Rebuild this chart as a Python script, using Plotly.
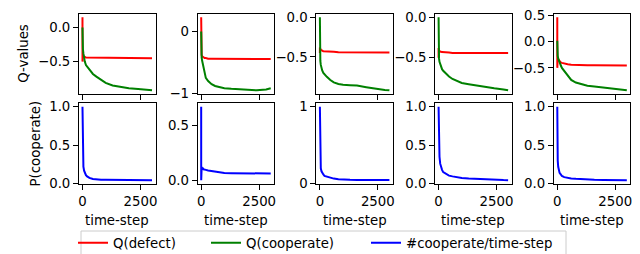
import plotly.graph_objects as go
from plotly.subplots import make_subplots

# ---------------- data ----------------
time_steps = [0, 1, 3, 6, 10, 20, 40, 70, 100, 150, 200, 300, 450, 600, 800,
              1000, 1300, 1600, 2000, 2400, 2800, 3000]

q_defect_1 = [0.15, -0.50, -0.38, -0.36, -0.38, -0.40, -0.42, -0.43, -0.43, -0.44, -0.44,
              -0.44, -0.44, -0.44, -0.44, -0.445, -0.445, -0.45, -0.45, -0.45, -0.45, -0.45]
q_coop_1 = [0.0, -0.10, -0.20, -0.25, -0.28, -0.32, -0.38, -0.45, -0.50, -0.55, -0.57,
            -0.62, -0.68, -0.72, -0.77, -0.81, -0.85, -0.87, -0.89, -0.90, -0.91, -0.92]
p_coop_1 = [1.0, 0.95, 0.85, 0.70, 0.60, 0.33, 0.22, 0.17, 0.14, 0.11, 0.095,
            0.075, 0.06, 0.052, 0.05, 0.05, 0.05, 0.048, 0.047, 0.046, 0.045, 0.045]

q_defect_2 = [0.23, -0.35, -0.30, -0.33, -0.36, -0.38, -0.40, -0.41, -0.42, -0.43, -0.43,
              -0.44, -0.44, -0.44, -0.44, -0.44, -0.44, -0.44, -0.445, -0.445, -0.445, -0.445]
q_coop_2 = [0.0, -0.10, -0.20, -0.30, -0.36, -0.42, -0.47, -0.52, -0.60, -0.70, -0.75,
            -0.80, -0.85, -0.88, -0.90, -0.915, -0.925, -0.93, -0.94, -0.95, -0.935, -0.915]
p_coop_2 = [0.67, 0.0, 0.35, 0.08, 0.20, 0.12, 0.11, 0.11, 0.10, 0.10, 0.095,
            0.09, 0.085, 0.075, 0.068, 0.066, 0.065, 0.064, 0.062, 0.061, 0.060, 0.062]

q_defect_3 = [-0.45, -0.38, -0.42, -0.40, -0.39, -0.40, -0.41, -0.42, -0.42, -0.43, -0.43,
              -0.43, -0.435, -0.435, -0.44, -0.44, -0.44, -0.44, -0.445, -0.445, -0.445, -0.445]
q_coop_3 = [0.0, -0.15, -0.30, -0.40, -0.48, -0.55, -0.60, -0.64, -0.67, -0.70, -0.72,
            -0.75, -0.79, -0.82, -0.84, -0.85, -0.855, -0.86, -0.88, -0.90, -0.915, -0.92]
p_coop_3 = [1.0, 0.95, 0.80, 0.60, 0.50, 0.28, 0.20, 0.16, 0.14, 0.12, 0.10,
            0.09, 0.077, 0.066, 0.058, 0.052, 0.05, 0.048, 0.047, 0.046, 0.046, 0.048]

q_defect_4 = [-0.50, -0.38, -0.40, -0.39, -0.40, -0.41, -0.42, -0.42, -0.425, -0.43, -0.43,
              -0.435, -0.435, -0.44, -0.44, -0.44, -0.44, -0.44, -0.44, -0.44, -0.44, -0.44]
q_coop_4 = [0.0, -0.10, -0.25, -0.38, -0.46, -0.51, -0.55, -0.58, -0.61, -0.64, -0.66,
            -0.69, -0.73, -0.76, -0.79, -0.81, -0.825, -0.84, -0.86, -0.875, -0.89, -0.90]
p_coop_4 = [1.0, 0.98, 0.90, 0.80, 0.74, 0.50, 0.35, 0.26, 0.21, 0.18, 0.15,
            0.13, 0.105, 0.095, 0.083, 0.075, 0.068, 0.062, 0.055, 0.05, 0.047, 0.046]

q_defect_5 = [0.47, -0.50, -0.20, -0.28, -0.30, -0.32, -0.34, -0.36, -0.38, -0.395, -0.405,
              -0.42, -0.43, -0.44, -0.445, -0.45, -0.45, -0.45, -0.45, -0.455, -0.455, -0.455]
q_coop_5 = [0.02, -0.05, -0.10, -0.15, -0.20, -0.27, -0.32, -0.37, -0.40, -0.45, -0.50,
            -0.56, -0.66, -0.73, -0.78, -0.81, -0.84, -0.855, -0.875, -0.89, -0.91, -0.93]
p_coop_5 = [1.0, 0.90, 0.60, 0.45, 0.42, 0.30, 0.22, 0.17, 0.14, 0.12, 0.10,
            0.085, 0.075, 0.068, 0.063, 0.058, 0.054, 0.05, 0.048, 0.047, 0.046, 0.046]

q_defect = [q_defect_1, q_defect_2, q_defect_3, q_defect_4, q_defect_5]
q_coop = [q_coop_1, q_coop_2, q_coop_3, q_coop_4, q_coop_5]
p_coop = [p_coop_1, p_coop_2, p_coop_3, p_coop_4, p_coop_5]

x_tickvals = [0, 2500]
x_ticktext = ["0", "2500"]
q_tickvals = [[0.0, -0.5], [0.0, -1.0], [0.0, -0.5], [0.0, -0.5], [0.5, 0.0, -0.5]]
q_ticktext = [["0.0", "\u22120.5"], ["0", "\u22121"], ["0.0", "\u22120.5"],
              ["0.0", "\u22120.5"], ["0.5", "0.0", "\u22120.5"]]
p_tickvals = [[0.0, 0.5, 1.0], [0.0, 0.5], [0.0, 1.0], [0.0, 0.5, 1.0], [0.0, 0.5, 1.0]]
p_ticktext = [["0.0", "0.5", "1.0"], ["0.0", "0.5"], ["0", "1"],
              ["0.0", "0.5", "1.0"], ["0.0", "0.5", "1.0"]]

series_names = ["Q(defect)", "Q(cooperate)", "#cooperate/time-step"]
series_colors = ["red", "green", "blue"]

# ---------------- figure ----------------
W, H = 640, 254
FONT = "DejaVu Sans"
FS = 13.3

fig = make_subplots(rows=2, cols=5)

col_left = 71.0
col_step = 118.7
col_w = 76.5
row_px = [(5.5, 86.0), (95.0, 176.0)]
legend_names = ["legend", "legend2", "legend3"]
legend_line_px = [77, 210, 370]


def pad_range(vals, ticks, frac=0.05):
    lo, hi = min(vals), max(vals)
    p = (hi - lo) * frac
    lo, hi = lo - p, hi + p
    # keep edge ticks visible (matplotlib shows them when they sit on the limit)
    lo = min(lo, min(ticks) - 0.004)
    hi = max(hi, max(ticks) + 0.004)
    return [lo, hi]


x_range = [min(time_steps) - 0.05 * (max(time_steps) - min(time_steps)),
           max(time_steps) + 0.05 * (max(time_steps) - min(time_steps))]

axis_style = dict(showline=True, linecolor="black", linewidth=1, mirror=True,
                  ticks="outside", ticklen=5, tickwidth=1, tickcolor="black",
                  showgrid=False, zeroline=False, automargin=False,
                  tickmode="array", ticklabeloverflow="allow",
                  tickfont=dict(family=FONT, size=FS, color="black"))

for r in range(2):
    for c in range(5):
        if r == 0:
            for j, ser in enumerate([q_defect[c], q_coop[c]]):
                fig.add_trace(go.Scatter(x=time_steps, y=ser, mode="lines",
                                         line=dict(color=series_colors[j], width=2),
                                         name=series_names[j], showlegend=(c == 0),
                                         legend=legend_names[j]), row=1, col=c + 1)
            tv, tt = q_tickvals[c], q_ticktext[c]
            yr = pad_range(q_defect[c] + q_coop[c], tv)
        else:
            fig.add_trace(go.Scatter(x=time_steps, y=p_coop[c], mode="lines",
                                     line=dict(color=series_colors[2], width=2),
                                     name=series_names[2], showlegend=(c == 0),
                                     legend=legend_names[2]), row=2, col=c + 1)
            tv, tt = p_tickvals[c], p_ticktext[c]
            yr = pad_range(p_coop[c], tv)

        x0 = (col_left + c * col_step) / W
        x1 = (col_left + c * col_step + col_w) / W
        y0 = 1 - row_px[r][1] / H
        y1 = 1 - row_px[r][0] / H
        fig.update_xaxes(domain=[x0, x1], range=x_range, tickvals=x_tickvals,
                         ticktext=x_ticktext, showticklabels=(r == 1),
                         row=r + 1, col=c + 1, **axis_style)
        fig.update_yaxes(domain=[y0, y1], range=yr, tickvals=tv, ticktext=tt,
                         showticklabels=True, side="left",
                         row=r + 1, col=c + 1, **axis_style)

annotations = []
for c in range(5):
    cx = (col_left + c * col_step + col_w / 2) / W
    annotations.append(dict(text="time-step", x=cx, y=1 - 212 / H, xref="paper", yref="paper",
                            showarrow=False, xanchor="center", yanchor="middle",
                            font=dict(family=FONT, size=FS, color="black")))
annotations.append(dict(text="Q-values", x=16 / W, y=1 - 45.75 / H, xref="paper", yref="paper",
                        showarrow=False, textangle=-90, xanchor="center", yanchor="middle",
                        font=dict(family=FONT, size=FS, color="black")))
annotations.append(dict(text="P(cooperate)", x=27 / W, y=1 - 135.5 / H, xref="paper",
                        yref="paper", showarrow=False, textangle=-90, xanchor="center",
                        yanchor="middle", font=dict(family=FONT, size=FS, color="black")))

leg_common = dict(orientation="h", xanchor="left", yanchor="middle", y=1 - 235 / H,
                  borderwidth=0, bgcolor="rgba(255,255,255,0)",
                  font=dict(family=FONT, size=FS, color="black"))
legends = {}
for name, px in zip(legend_names, legend_line_px):
    legends[name] = dict(x=(px - 12) / W, **leg_common)

fig.update_layout(
    width=W, height=H,
    margin=dict(l=0, r=0, t=0, b=0),
    paper_bgcolor="white", plot_bgcolor="white",
    annotations=annotations,
    shapes=[dict(type="rect", xref="paper", yref="paper",
                 x0=73 / W, x1=558 / W, y0=1 - 247 / H, y1=1 - 223 / H,
                 line=dict(color="#cccccc", width=1), fillcolor="rgba(255,255,255,0.8)",
                 layer="below")],
    **legends,
)

fig.write_html("out.html")
